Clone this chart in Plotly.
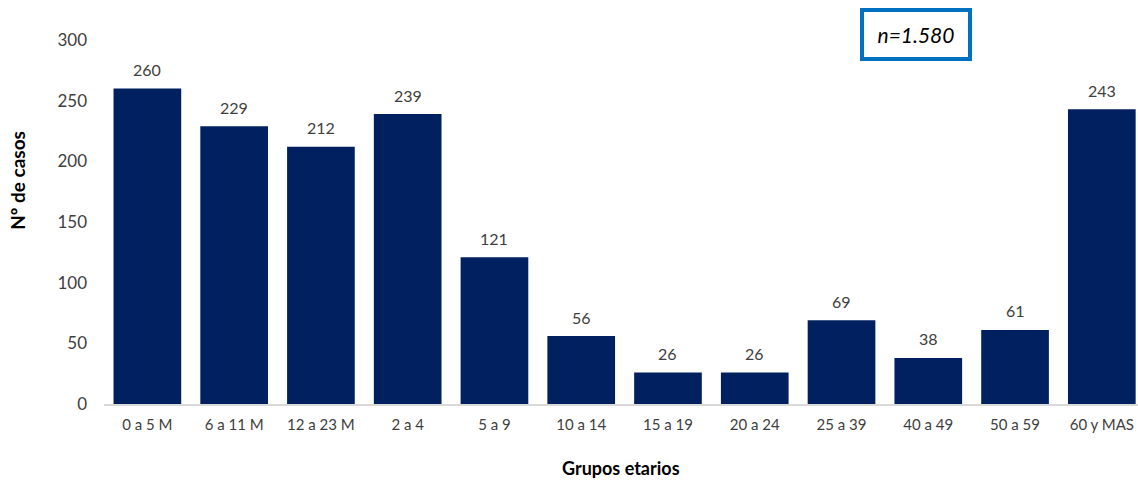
import plotly.graph_objects as go

categories = ["0 a 5 M", "6 a 11 M", "12 a 23 M", "2 a 4", "5 a 9", "10 a 14",
              "15 a 19", "20 a 24", "25 a 39", "40 a 49", "50 a 59", "60 y MAS"]
values = [260, 229, 212, 239, 121, 56, 26, 26, 69, 38, 61, 243]
y_ticks = [0, 50, 100, 150, 200, 250, 300]

FONT = "Lato"
fig = go.Figure(go.Bar(
    x=categories, y=values,
    marker=dict(color="#002060", line=dict(width=0)),
    cliponaxis=False,
))

label_annotations = [
    dict(x=c, y=v, xref="x", yref="y", text=str(v), showarrow=False,
         yanchor="middle", yshift=19, font=dict(family=FONT, size=16, color="#404040"))
    for c, v in zip(categories, values)
]

fig.update_layout(
    width=1138, height=480,
    margin=dict(l=104, r=0, t=40, b=76),
    plot_bgcolor="white", paper_bgcolor="white",
    bargap=0.22, showlegend=False,
    font=dict(family=FONT, color="#404040"),
    xaxis=dict(range=[-0.5, 11.417], showline=True, linecolor="#D9D9D9", linewidth=2,
               ticks="", ticklabelstandoff=6,
               tickfont=dict(family=FONT, size=15, color="#404040"),
               showgrid=False, zeroline=False),
    yaxis=dict(range=[0, 300], tickvals=y_ticks, showgrid=False, zeroline=False,
               showline=False, ticks="", ticklabelstandoff=16,
               tickfont=dict(family=FONT, size=17, color="#404040")),
    annotations=label_annotations + [
        dict(text="<b>Grupos etarios</b>", xref="paper", yref="paper", x=0.5, y=0,
             xanchor="center", yanchor="middle", yshift=-64, showarrow=False,
             font=dict(family=FONT, size=18, color="black")),
        dict(text="<b>Nº de casos</b>", xref="paper", yref="paper", x=0, xshift=-86,
             y=0.613, xanchor="center", yanchor="middle", textangle=-90, showarrow=False,
             font=dict(family=FONT, size=19, color="black")),
        dict(text="<i>n=1.580</i>", xref="paper", yref="paper", x=(916 - 104) / 1034,
             y=(404 - 34) / 364, xanchor="center", yanchor="middle", showarrow=False,
             bgcolor="white", bordercolor="#0070C0", width=84,
             borderwidth=4, borderpad=10, font=dict(family=FONT, size=21, color="black")),
    ],
)

fig.write_html("out.html")
